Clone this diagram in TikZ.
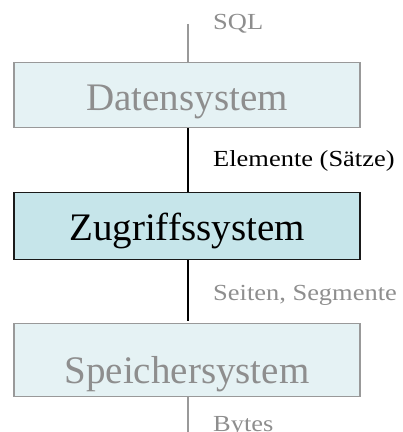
\documentclass[tikz,border=0pt]{standalone}
\usepackage{fontspec}
\setmainfont{Liberation Serif}
\usepackage{graphicx}
\definecolor{lightfill}{HTML}{E5F2F4}
\definecolor{midfill}{HTML}{C6E5EA}
\definecolor{greytext}{HTML}{8E8E8E}
\definecolor{greyline}{HTML}{999999}
\definecolor{darkline}{HTML}{1A1A1A}
\begin{document}
\begin{tikzpicture}[x=1pt,y=1pt,
  box/.style={rectangle, inner sep=0pt, minimum width=346pt, anchor=north,
    font=\fontsize{39}{39}\selectfont, line width=1.4pt},
  dimbox/.style={box, draw=greyline, fill=lightfill, text=greytext},
  mainbox/.style={box, draw=darkline, fill=midfill, text=black},
  lab/.style={anchor=base west, inner sep=0pt, font=\fontsize{23}{23}\selectfont},
  dimlab/.style={lab, text=greytext},
  greyconn/.style={draw=greyline, line width=2pt},
  blackconn/.style={draw=black, line width=2.6pt}]
\useasboundingbox (0,0) rectangle (403,432);
\node[dimbox, text height=48pt, text depth=17pt] (d) at (187,370) {Datensystem};
\node[mainbox, text height=48pt, text depth=19pt] (z) at (187,240) {Zugriffssystem};
\node[dimbox, text height=60pt, text depth=13pt] (s) at (187,109) {Speichersystem};
\coordinate (x) at (188,0);
\coordinate (top) at (188,408);
\coordinate (bot) at (188,-2);
\coordinate (sTop) at (188,111);
\draw[greyconn] (top) -- (d.north -| x);
\draw[blackconn] (d.south -| x) -- (z.north -| x);
\draw[blackconn] (z.south -| x) -- (sTop);
\draw[greyconn] (s.south -| x) -- (bot);
\node[dimlab] (l1) at (213,402) {\scalebox{1.15}[1]{SQL}};
\node[lab] (l2) at (213,265) {\scalebox{1.15}[1]{Elemente (Sätze)}};
\node[dimlab] (l3) at (213,131) {\scalebox{1.15}[1]{Seiten, Segmente}};
\node[dimlab] (l4) at (213,1) {\scalebox{1.15}[1]{Bytes}};
\end{tikzpicture}
\end{document}
